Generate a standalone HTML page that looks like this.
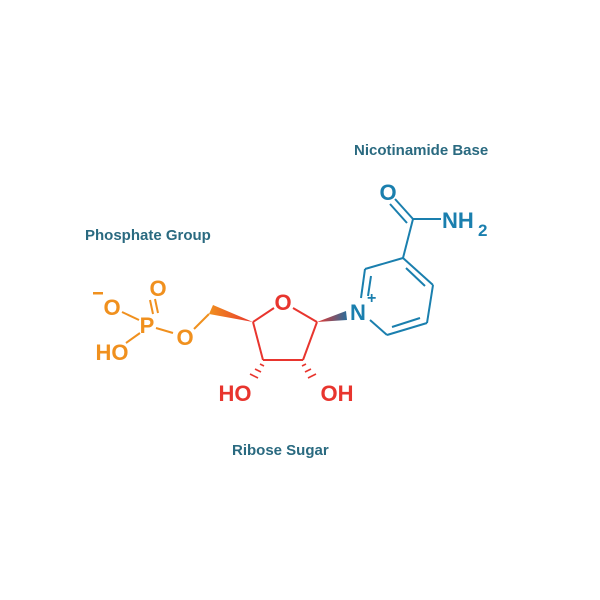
<!DOCTYPE html>
<html><head><style>body{margin:0;background:#fff}svg{display:block}</style></head><body>
<svg width="600" height="600" viewBox="0 0 600 600" xmlns="http://www.w3.org/2000/svg" font-family="Liberation Sans, sans-serif">
<defs>
<linearGradient id="g1" x1="0" x2="1"><stop offset="0" stop-color="#e8352e"/><stop offset="1" stop-color="#2a6d9a"/></linearGradient>
<linearGradient id="g2" x1="0" x2="1"><stop offset="0" stop-color="#f0901e"/><stop offset="1" stop-color="#e8352e"/></linearGradient>
</defs>
<rect width="600" height="600" fill="#fff"/>
<g font-size="15" fill="#2a6a80" font-weight="bold">
<text x="354" y="155">Nicotinamide Base</text>
<text x="85" y="240">Phosphate Group</text>
<text x="232" y="455">Ribose Sugar</text>
</g>
<!-- phosphate -->
<g stroke="#f0901e" stroke-width="2" fill="none">
<line x1="122" y1="312" x2="139" y2="320"/>
<line x1="150" y1="300" x2="153" y2="314"/><line x1="155" y1="299" x2="158" y2="313"/>
<line x1="156" y1="328" x2="173" y2="333"/>
<line x1="140" y1="333" x2="126" y2="343"/>
<line x1="194" y1="329" x2="209" y2="314"/>
</g>
<polygon points="209,314 213,305 253,322" fill="url(#g2)"/>
<g fill="#f0901e" font-size="22" font-weight="bold" text-anchor="middle">
<text x="112" y="315">O</text><text x="158" y="296">O</text><text x="147" y="333">P</text>
<text x="185" y="345">O</text><text x="112" y="360">HO</text>
<rect x="93" y="292" width="10" height="2.5"/>
</g>
<!-- ribose -->
<g stroke="#e8352e" stroke-width="2" fill="none">
<line x1="253" y1="322" x2="274" y2="308"/>
<line x1="293" y1="308" x2="317" y2="322"/>
<line x1="317" y1="322" x2="303" y2="360"/>
<line x1="303" y1="360" x2="263" y2="360"/>
<line x1="263" y1="360" x2="253" y2="322"/>
<g stroke-width="1.6">
<line x1="260" y1="364" x2="264" y2="366"/><line x1="255" y1="369" x2="261" y2="372"/><line x1="250" y1="374" x2="258" y2="378"/>
<line x1="306" y1="364" x2="302" y2="366"/><line x1="311" y1="369" x2="305" y2="372"/><line x1="316" y1="374" x2="308" y2="378"/>
</g>
</g>
<polygon points="317,322 346,311 347,320" fill="url(#g1)"/>
<g fill="#e8352e" font-size="22" font-weight="bold" text-anchor="middle">
<text x="283" y="310">O</text><text x="235" y="401">HO</text><text x="337" y="401">OH</text>
</g>
<!-- nicotinamide -->
<g stroke="#1a7fae" stroke-width="2" fill="none">
<line x1="365" y1="269" x2="403" y2="258"/>
<line x1="403" y1="258" x2="433" y2="285"/>
<line x1="433" y1="285" x2="427" y2="323"/>
<line x1="427" y1="323" x2="387" y2="335"/>
<line x1="387" y1="335" x2="370" y2="320"/>
<line x1="365" y1="269" x2="361" y2="298"/>
<line x1="371" y1="276" x2="368" y2="296"/>
<line x1="406" y1="268" x2="425" y2="286"/>
<line x1="420" y1="318" x2="392" y2="327"/>
<line x1="403" y1="258" x2="413" y2="219"/>
<line x1="413" y1="219" x2="441" y2="219"/>
<line x1="413" y1="219" x2="395" y2="199"/><line x1="407" y1="223" x2="390" y2="204"/>
</g>
<g fill="#1a7fae" font-size="22" font-weight="bold">
<text x="358" y="320" text-anchor="middle">N</text>
<text x="367" y="303" font-size="16">+</text>
<text x="388" y="200" text-anchor="middle">O</text>
<text x="442" y="228">NH</text>
<text x="478" y="236" font-size="17">2</text>
</g>
</svg>
</body></html>
